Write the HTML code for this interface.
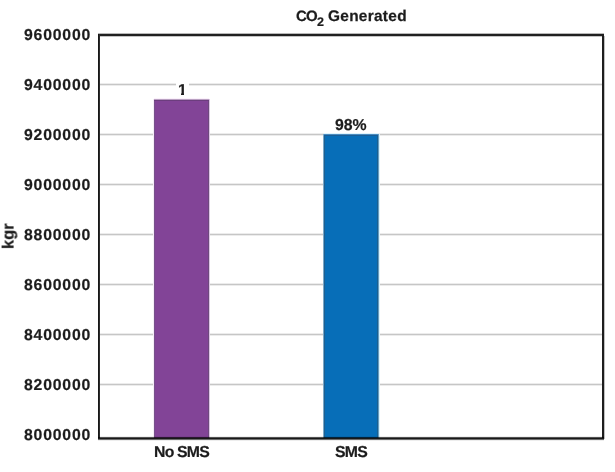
<!DOCTYPE html>
<html>
<head>
<meta charset="utf-8">
<style>
html,body{margin:0;padding:0;background:#fff;}
body{width:615px;height:472px;position:relative;overflow:hidden;font-family:"Liberation Sans",Arial,sans-serif;font-weight:bold;text-rendering:geometricPrecision;color:#1c1c1c;-webkit-text-stroke:0.2px #1c1c1c;}
.t{position:absolute;white-space:nowrap;line-height:1;will-change:transform;}
.grid{position:absolute;left:100px;width:502px;height:1px;background:#c6c6c6;box-shadow:0 1px 0 #ececec,0 -1px 0 #ececec;}
.ln{position:absolute;}
.bar{position:absolute;}
.ylab{will-change:transform;position:absolute;right:523.5px;font-size:15.8px;letter-spacing:0.8px;line-height:1;white-space:nowrap;}
</style>
</head>
<body>
<div class="t" style="left:296px;top:9px;font-size:15px;letter-spacing:-0.8px;-webkit-text-stroke:0.25px #1c1c1c;">CO</div>
<div class="t" style="left:316.5px;top:15.5px;font-size:12.5px;">2</div>
<div class="t" style="left:328px;top:9px;font-size:15.4px;letter-spacing:0.3px;-webkit-text-stroke:0.25px #1c1c1c;">Generated</div>

<div class="grid" style="top:84px"></div>
<div class="grid" style="top:134px"></div>
<div class="grid" style="top:184px"></div>
<div class="grid" style="top:234px"></div>
<div class="grid" style="top:284px"></div>
<div class="grid" style="top:334px"></div>
<div class="grid" style="top:384px"></div>

<!-- purple bar: cols 154..208, rows 99..437 -->
<div class="bar" style="left:154px;top:98px;width:55px;height:1px;background:#fbf1fb;"></div>
<div class="bar" style="left:154px;top:99px;width:55px;height:339px;background:#824497;box-shadow:inset 0 1px 0 #b9a0c2,inset 0 2px 0 #6c3d7e,inset 1px 0 0 #76528a,inset -1px 0 0 #6e4a7e,1px 0 0 #dcc6e4,-1px 0 0 #f6ecf8;"></div>
<!-- blue bar: cols 324..377, rows 134..437 -->
<div class="bar" style="left:324px;top:133px;width:54px;height:1px;background:#e0f4fc;"></div>
<div class="bar" style="left:324px;top:134px;width:54px;height:304px;background:#076eb8;box-shadow:inset 0 1px 0 #4a8cc0,inset 0 2px 0 #1a5e96,inset 1px 0 0 #1f6090,inset -1px 0 0 #1a6090,1px 0 0 #6a9ec0,-1px 0 0 #7aa8c8,2px 0 0 #dcf4fc;"></div>

<!-- frame -->
<div class="ln" style="left:98px;top:33px;width:506px;height:1px;background:#b8b8b8;"></div>
<div class="ln" style="left:98px;top:34px;width:506px;height:2px;background:#202020;"></div>
<div class="ln" style="left:100px;top:36px;width:502px;height:1px;background:#c4c4c4;"></div>
<div class="ln" style="left:98px;top:34px;width:1px;height:405px;background:#181818;"></div>
<div class="ln" style="left:99px;top:34px;width:1px;height:405px;background:#2c2c2c;"></div>
<div class="ln" style="left:602px;top:34px;width:2px;height:405px;background:#1e1e1e;"></div>
<div class="ln" style="left:604px;top:36px;width:1px;height:403px;background:#c0c0c0;"></div>
<div class="ln" style="left:98px;top:436px;width:506px;height:1px;background:rgba(0,0,0,0.06);"></div>
<div class="ln" style="left:98px;top:437px;width:506px;height:1px;background:rgba(0,0,0,0.68);"></div>
<div class="ln" style="left:98px;top:438px;width:506px;height:1px;background:#181818;"></div>
<div class="ln" style="left:98px;top:439px;width:506px;height:1px;background:rgba(0,0,0,0.58);"></div>
<div class="ln" style="left:98px;top:440px;width:506px;height:1px;background:rgba(0,0,0,0.07);"></div>

<div class="t" style="left:176px;top:82px;width:13px;height:14px;background:#fff;"></div>
<div class="t" style="left:178px;top:83px;font-size:15.8px;">1</div>
<div class="ln" style="left:176px;top:93px;width:5px;height:2px;background:#fff;"></div>
<div class="ln" style="left:184px;top:93px;width:5px;height:2px;background:#fff;"></div>
<div class="t" style="left:335px;top:118px;font-size:15.8px;">98%</div>

<div class="ylab" style="top:28px">9600000</div>
<div class="ylab" style="top:78px">9400000</div>
<div class="ylab" style="top:128px">9200000</div>
<div class="ylab" style="top:178px">9000000</div>
<div class="ylab" style="top:228px">8800000</div>
<div class="ylab" style="top:278px">8600000</div>
<div class="ylab" style="top:328px">8400000</div>
<div class="ylab" style="top:378px">8200000</div>
<div class="ylab" style="top:428px">8000000</div>

<div class="t" style="left:154px;top:445px;font-size:15.8px;letter-spacing:-0.6px;">No <span style="position:absolute;left:23px;top:0;letter-spacing:-0.7px;">SMS</span></div>
<div class="t" style="left:335px;top:445px;font-size:15.8px;letter-spacing:-0.7px;">SMS</div>

<div class="t" style="left:-4.5px;top:228px;font-size:16.5px;transform:rotate(-90deg);">kgr</div>
</body>
</html>
